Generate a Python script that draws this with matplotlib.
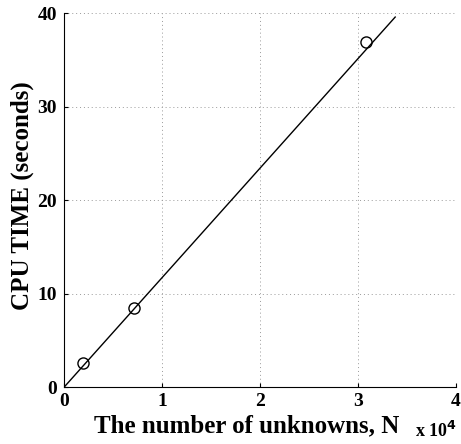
import numpy as np
import matplotlib.pyplot as plt
from matplotlib.ticker import MultipleLocator

# measured points (N in units of 1e4, CPU time in seconds)
n_unknowns = [0.19, 0.71, 3.08]
cpu_time = [2.6, 8.45, 36.9]

# linear fit line
fit_x = [0.0, 3.38]
fit_y = [0.0, 39.6]

plt.rcParams['font.family'] = ['Liberation Serif', 'DejaVu Serif']
plt.rcParams['font.weight'] = 'bold'

fig = plt.figure(figsize=(4.61, 4.44), dpi=100)
ax = fig.add_axes([0.139, 0.128, 0.850, 0.842])

ax.plot(fit_x, fit_y, 'k-', lw=1.0)
ax.plot(n_unknowns, cpu_time, 'ko', mfc='none', ms=8, mew=1.0)

ax.set_xlim(0, 4)
ax.set_ylim(0, 40)
ax.xaxis.set_major_locator(MultipleLocator(1))
ax.yaxis.set_major_locator(MultipleLocator(10))
ax.grid(True, color='#999999', linestyle=(0, (1, 3)), lw=0.7)

for s in ['top', 'right']:
    ax.spines[s].set_visible(False)
ax.tick_params(direction='in', labelsize=14, length=3)
ax.tick_params(axis='x', pad=4)
ax.tick_params(axis='y', pad=5)
for lab in ax.get_xticklabels() + ax.get_yticklabels():
    lab.set_fontweight('bold')

ax.set_xlabel('The number of unknowns, N', fontsize=18, fontweight='bold')
ax.set_ylabel('CPU TIME (seconds)', fontsize=18, fontweight='bold')
ax.xaxis.set_label_coords(0.465, -0.072)
ax.yaxis.set_label_coords(-0.077, 0.513)
fig.text(0.90, 0.015, r'x 10$^{\mathbf{4}}$', fontsize=13, fontweight='bold', ha='left')

fig.savefig('out.png', dpi=100)
